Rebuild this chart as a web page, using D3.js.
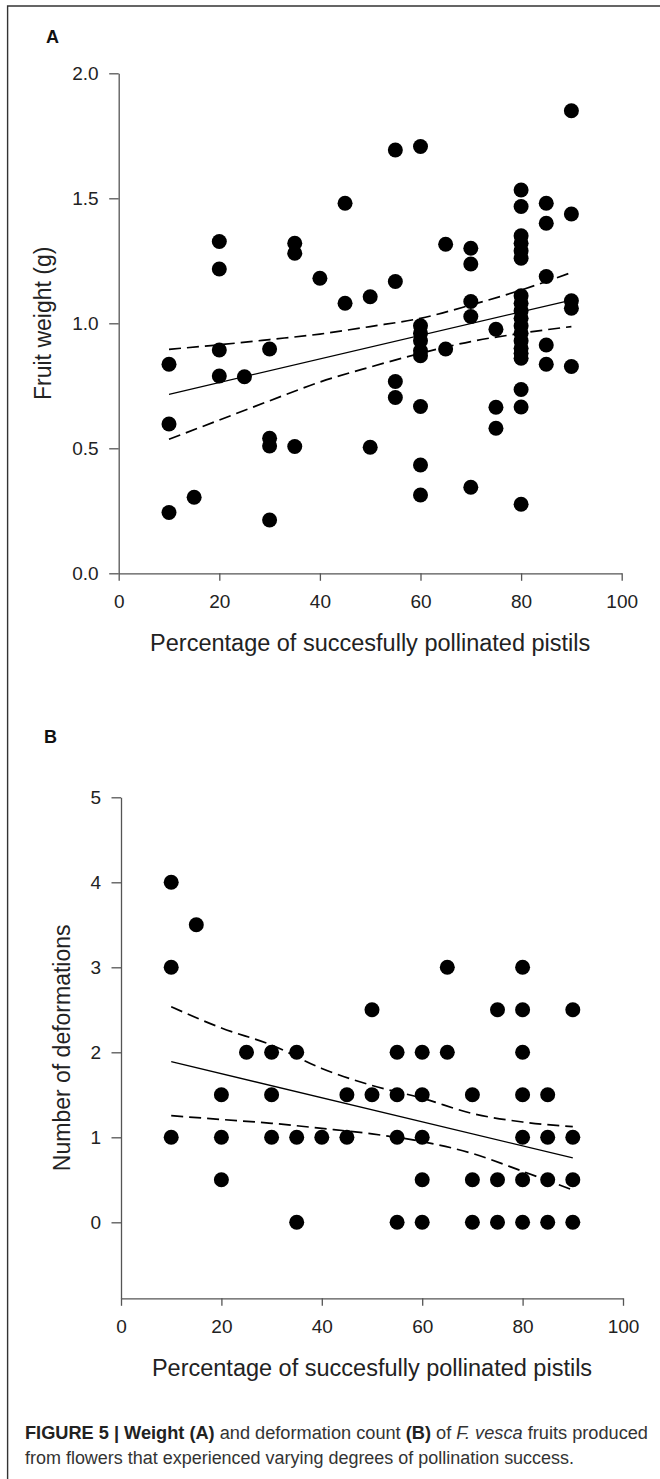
<!DOCTYPE html>
<html>
<head>
<meta charset="utf-8">
<script src="https://cdn.jsdelivr.net/npm/d3@7"></script>
<style>
  body { margin: 0; background: #fff; }
  svg { display: block; }
  text { font-family: "Liberation Sans", Arial, sans-serif; }
</style>
</head>
<body>
<div id="chart"></div>
<script>
const width = 660
const height = 1479

// Panel A: fruit weight vs pollination %
const pollA = [10,10,10, 15, 20,20,20,20, 25, 30,30,30,30, 35,35,35, 40, 45,45, 50,50,
  55,55,55,55, 60,60,60,60,60,60,60,60,60, 65,65, 70,70,70,70,70, 75,75,75,
  80,80,80,80,80,80,80,80,80,80,80,80,80,80,80,80,80,80,80, 85,85,85,85,85, 90,90,90,90,90]
const weightA = [0.836,0.597,0.243, 0.304, 1.327,1.217,0.893,0.789, 0.786, 0.897,0.54,0.509,0.213,
  1.32,1.28,0.507, 1.18, 1.48,1.08, 1.106,0.504,
  1.693,1.167,0.767,0.703, 1.707,0.99,0.96,0.93,0.89,0.87,0.667,0.433,0.313,
  1.316,0.897, 1.30,1.237,1.087,1.027,0.344, 0.976,0.664,0.58,
  1.533,1.467,1.35,1.32,1.29,1.26,1.11,1.08,1.05,1.02,0.99,0.96,0.93,0.90,0.88,0.86,0.735,0.665,0.276,
  1.48,1.40,1.187,0.913,0.836, 1.85,1.437,1.09,1.06,0.827]

// Panel B: deformations vs pollination %
const pollB = [10,10,10, 15, 20,20,20, 25, 30,30,30, 35,35,35, 40, 45,45, 50,50,
  55,55,55,55, 60,60,60,60,60, 65,65, 70,70,70, 75,75,75,
  80,80,80,80,80,80,80, 85,85,85,85, 90,90,90,90]
const deformB = [4,3,1, 3.5, 1.5,1,0.5, 2, 2,1.5,1, 2,1,0, 1, 1.5,1, 2.5,1.5,
  2,1.5,1,0, 2,1.5,1,0.5,0, 3,2, 1.5,0.5,0, 2.5,0.5,0,
  3,2.5,2,1.5,1,0.5,0, 1.5,1,0.5,0, 2.5,1,0.5,0]

// regression line and confidence band
const fitX = [10, 90]
const fitA = [0.716, 1.093]
const fitB = [1.89, 0.758]
const bandX = [10, 20, 30, 40, 50, 60, 70, 80, 90]
const upperA = [0.896, 0.914, 0.935, 0.957, 0.987, 1.02, 1.073, 1.133, 1.203]
const lowerA = [0.536, 0.613, 0.69, 0.765, 0.825, 0.88, 0.927, 0.96, 0.987]
const upperB = [2.536, 2.286, 2.085, 1.81, 1.61, 1.46, 1.28, 1.18, 1.125]
const lowerB = [1.254, 1.21, 1.165, 1.105, 1.04, 0.95, 0.81, 0.6, 0.38]

const xTicks = [0, 20, 40, 60, 80, 100]
const yTicksA = [0, 0.5, 1.0, 1.5, 2.0]
const yTicksB = [0, 1, 2, 3, 4, 5]
const xTitle = "Percentage of succesfully pollinated pistils"

const svg = d3.select("#chart").append("svg")
  .attr("width", width)
  .attr("height", height)

// frame
svg.append("path")
  .attr("d", `M7.6,${height} V6 H${width}`)
  .attr("fill", "none")
  .attr("stroke", "#333")
  .attr("stroke-width", 1.4)

function panel(cfg) {
  const g = svg.append("g")
  const x = d3.scaleLinear().domain([0, 100]).range(cfg.xRange)
  const y = d3.scaleLinear().domain(cfg.yDomain).range(cfg.yRange)

  const xAxis = g.append("g")
    .attr("transform", `translate(0, ${cfg.yRange[0]})`)
    .call(d3.axisBottom(x).tickValues(xTicks).tickSize(7.5).tickSizeOuter(0))
  xAxis.selectAll("text").attr("y", 35).attr("dy", 0)

  const yAxis = g.append("g")
    .attr("transform", `translate(${cfg.xRange[0]}, 0)`)
    .call(d3.axisLeft(y).tickValues(cfg.yTicks).tickFormat(cfg.fmt).tickSize(9.5).tickPadding(10.5).tickSizeOuter(0))

  g.selectAll(".domain, .tick line").attr("stroke", "#555").attr("stroke-width", 1.3)
  g.selectAll(".tick text").attr("font-size", 19).attr("fill", "#222")
    .attr("font-family", "'Liberation Sans', Arial, sans-serif")

  // titles
  g.append("text")
    .attr("x", (cfg.xRange[0] + cfg.xRange[1]) / 2)
    .attr("y", cfg.yRange[0] + 77.5)
    .attr("text-anchor", "middle")
    .attr("font-size", 23.5)
    .attr("fill", "#222")
    .text(xTitle)

  g.append("text")
    .attr("transform", `translate(${cfg.yTitleX}, ${(cfg.yRange[0] + cfg.yRange[1]) / 2}) rotate(-90)`)
    .attr("text-anchor", "middle")
    .attr("font-size", 23)
    .attr("fill", "#222")
    .text(cfg.yTitle)

  g.append("text")
    .attr("x", cfg.letterX)
    .attr("y", cfg.letterY)
    .attr("text-anchor", "middle")
    .attr("font-size", 18)
    .attr("font-weight", "bold")
    .attr("fill", "#111")
    .text(cfg.letter)

  // dots
  g.append("g").selectAll("circle")
    .data(cfg.xs.map((d, i) => ({ x: d, y: cfg.ys[i] })))
    .enter()
    .append("circle")
      .attr("cx", d => x(d.x))
      .attr("cy", d => y(d.y))
      .attr("r", 7.5)
      .attr("fill", "#000")

  // fit + band
  const line = d3.line().x(d => x(d[0])).y(d => y(d[1]))
  g.append("path")
    .attr("d", line(fitX.map((d, i) => [d, cfg.fit[i]])))
    .attr("fill", "none").attr("stroke", "#000").attr("stroke-width", 1.3)

  const curve = d3.line().x(d => x(d[0])).y(d => y(d[1])).curve(d3.curveMonotoneX)
  ;[cfg.upper, cfg.lower].forEach(arr => {
    g.append("path")
      .attr("d", curve(bandX.map((d, i) => [d, arr[i]])))
      .attr("fill", "none").attr("stroke", "#000").attr("stroke-width", 1.7)
      .attr("stroke-dasharray", "12,6")
  })
}

panel({
  xRange: [118.7, 621.7], yRange: [573.3, 73.3], yDomain: [0, 2],
  yTicks: yTicksA, fmt: d3.format(".1f"),
  yTitle: "Fruit weight (g)", yTitleX: 51,
  letter: "A", letterX: 52.6, letterY: 42.5,
  xs: pollA, ys: weightA, fit: fitA, upper: upperA, lower: lowerA
})

panel({
  xRange: [121, 623], yRange: [1298.3, 797.3], yDomain: [-0.894, 5],
  yTicks: yTicksB, fmt: d3.format("d"),
  yTitle: "Number of deformations", yTitleX: 70,
  letter: "B", letterX: 50.5, letterY: 743,
  xs: pollB, ys: deformB, fit: fitB, upper: upperB, lower: lowerB
})

// caption
const cap1 = svg.append("text")
  .attr("x", 25).attr("y", 1438.5)
  .attr("font-size", 18)
  .attr("fill", "#333")
  .attr("font-family", "'Liberation Sans Narrow', 'Arial Narrow', 'Liberation Sans', sans-serif")
  .attr("textLength", 623).attr("lengthAdjust", "spacingAndGlyphs")
cap1.append("tspan").attr("font-weight", "bold").attr("fill", "#222").text("FIGURE 5 | Weight (A)")
cap1.append("tspan").text(" and deformation count ")
cap1.append("tspan").attr("font-weight", "bold").attr("fill", "#222").text("(B)")
cap1.append("tspan").text(" of ")
cap1.append("tspan").attr("font-style", "italic").text("F. vesca")
cap1.append("tspan").text(" fruits produced")

svg.append("text")
  .attr("x", 25).attr("y", 1463.5)
  .attr("font-size", 18)
  .attr("fill", "#333")
  .attr("font-family", "'Liberation Sans Narrow', 'Arial Narrow', 'Liberation Sans', sans-serif")
  .attr("textLength", 549).attr("lengthAdjust", "spacingAndGlyphs")
  .text("from flowers that experienced varying degrees of pollination success.")
</script>
</body>
</html>
